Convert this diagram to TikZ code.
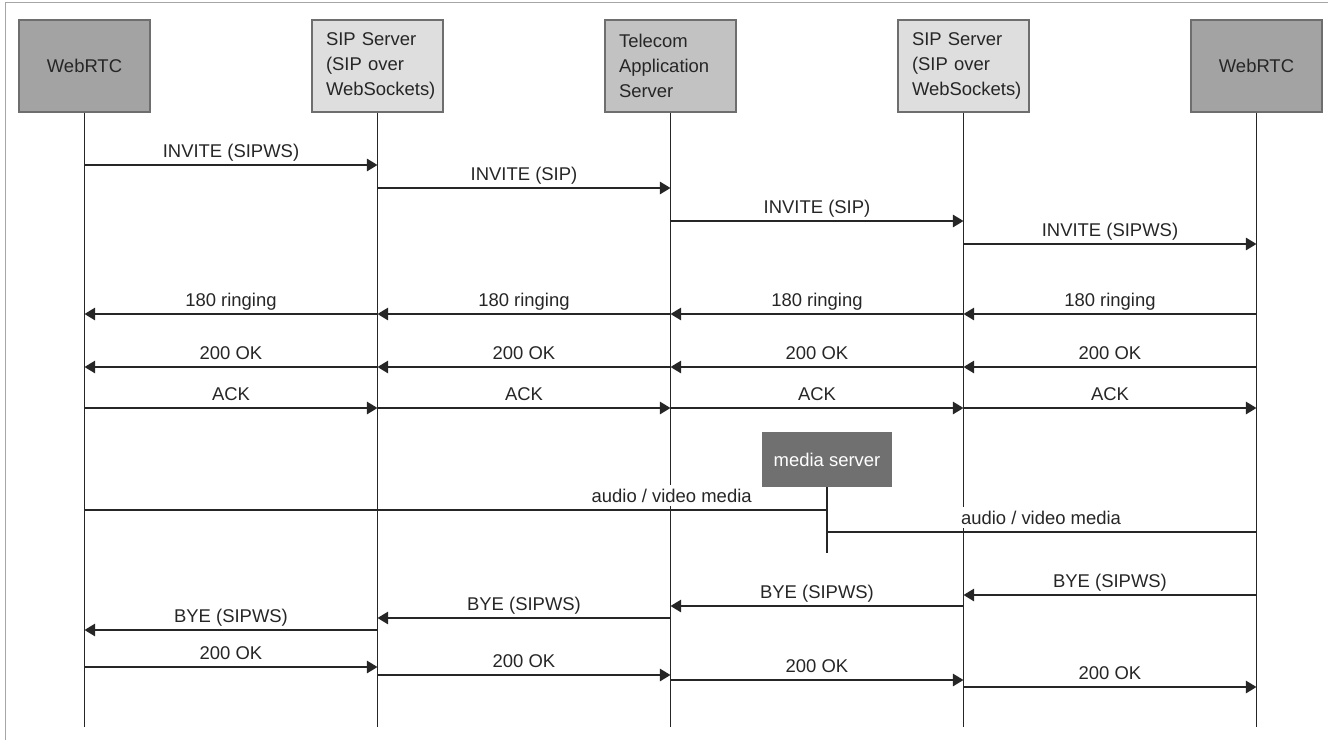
\documentclass[tikz,border=0pt]{standalone}
\usepackage{fontspec}
\setmainfont{Liberation Sans}
\usepackage{xcolor}
\usetikzlibrary{positioning}
\usetikzlibrary{arrows.meta}
\tikzset{>={Triangle[length=6pt,width=7pt]}}
\definecolor{ink}{HTML}{262626}
\definecolor{boxline}{HTML}{6E6E6E}
\definecolor{webfill}{HTML}{A3A3A3}
\definecolor{sipfill}{HTML}{DEDEDE}
\definecolor{tasfill}{HTML}{C2C2C2}
\definecolor{mediafill}{HTML}{707070}
\tikzset{
  actor/.style={draw=boxline, line width=0.6pt, minimum height=1.84cm,
    text width=2.06cm, inner xsep=0.28cm, text=ink,
    font=\fontsize{10.5}{14}\selectfont},
  mbox/.style={fill=mediafill, minimum width=2.62cm, minimum height=1.1cm,
    text=white, font=\fontsize{10.5}{14}\selectfont},
  life/.style={draw=ink, line width=0.9pt},
  msg/.style={->, draw=ink, line width=1pt},
  media/.style={draw=ink, line width=1.5pt},
  lbl/.style={anchor=base, yshift=4.5pt, inner sep=0pt, text=ink,
    font=\fontsize{10.5}{14}\selectfont}
}
\begin{document}
\begin{tikzpicture}[x=0.02cm, y=-0.02cm]
\useasboundingbox (0,0) rectangle (1328,740);
\draw[gray!70] (5,740) -- (5,2) -- (1328,2);

% participants
\node[actor, fill=webfill, align=center] (webL) at (84.5,66) {WebRTC};
\node[actor, fill=sipfill, align=left, right=3.22cm of webL] (sipL) {SIP Server\\(SIP over\\WebSockets)};
\node[actor, fill=tasfill, align=left, right=3.22cm of sipL] (tas) {Telecom\\Application\\Server};
\node[actor, fill=sipfill, align=left, right=3.22cm of tas] (sipR) {SIP Server\\(SIP over\\WebSockets)};
\node[actor, fill=webfill, align=center, right=3.22cm of sipR] (webR) {WebRTC};

\foreach \n in {webL,sipL,tas,sipR,webR}{
  \coordinate (\n-end) at (\n.south |- 0,727);
  \draw[life] (\n.south) -- (\n-end);
}

% invite
\draw[msg] (webL |- 0,165) -- node[lbl]{INVITE (SIPWS)} (sipL |- 0,165);
\draw[msg] (sipL |- 0,188) -- node[lbl]{INVITE (SIP)} (tas |- 0,188);
\draw[msg] (tas |- 0,221) -- node[lbl]{INVITE (SIP)} (sipR |- 0,221);
\draw[msg] (sipR |- 0,244) -- node[lbl]{INVITE (SIPWS)} (webR |- 0,244);

% ringing
\draw[msg] (webR |- 0,314) -- node[lbl]{180 ringing} (sipR |- 0,314);
\draw[msg] (sipR |- 0,314) -- node[lbl]{180 ringing} (tas |- 0,314);
\draw[msg] (tas |- 0,314) -- node[lbl]{180 ringing} (sipL |- 0,314);
\draw[msg] (sipL |- 0,314) -- node[lbl]{180 ringing} (webL |- 0,314);

% 200 ok
\draw[msg] (webR |- 0,367) -- node[lbl]{200 OK} (sipR |- 0,367);
\draw[msg] (sipR |- 0,367) -- node[lbl]{200 OK} (tas |- 0,367);
\draw[msg] (tas |- 0,367) -- node[lbl]{200 OK} (sipL |- 0,367);
\draw[msg] (sipL |- 0,367) -- node[lbl]{200 OK} (webL |- 0,367);

% ack
\draw[msg] (webL |- 0,408) -- node[lbl]{ACK} (sipL |- 0,408);
\draw[msg] (sipL |- 0,408) -- node[lbl]{ACK} (tas |- 0,408);
\draw[msg] (tas |- 0,408) -- node[lbl]{ACK} (sipR |- 0,408);
\draw[msg] (sipR |- 0,408) -- node[lbl]{ACK} (webR |- 0,408);

% media
\node[mbox] (media) at (827,459.5) {media server};
\coordinate (media-end) at (media.south |- 0,553);
\draw[life] (media.south) -- (media-end);
\node[lbl, anchor=base east, fill=white, inner ysep=2pt] (av1) at (752,510) {audio / video media};
\node[lbl, fill=white, inner ysep=2pt] (av2) at (1041,532) {audio / video media};
\draw[media] (webL |- 0,510) -- (media |- 0,510);
\draw[media] (media |- 0,532) -- (webR |- 0,532);

% bye
\draw[msg] (webR |- 0,595) -- node[lbl]{BYE (SIPWS)} (sipR |- 0,595);
\draw[msg] (sipR |- 0,606) -- node[lbl]{BYE (SIPWS)} (tas |- 0,606);
\draw[msg] (tas |- 0,618) -- node[lbl]{BYE (SIPWS)} (sipL |- 0,618);
\draw[msg] (sipL |- 0,630) -- node[lbl]{BYE (SIPWS)} (webL |- 0,630);

% 200 ok for bye
\draw[msg] (webL |- 0,667) -- node[lbl]{200 OK} (sipL |- 0,667);
\draw[msg] (sipL |- 0,675) -- node[lbl]{200 OK} (tas |- 0,675);
\draw[msg] (tas |- 0,680) -- node[lbl]{200 OK} (sipR |- 0,680);
\draw[msg] (sipR |- 0,687) -- node[lbl]{200 OK} (webR |- 0,687);
\end{tikzpicture}
\end{document}
